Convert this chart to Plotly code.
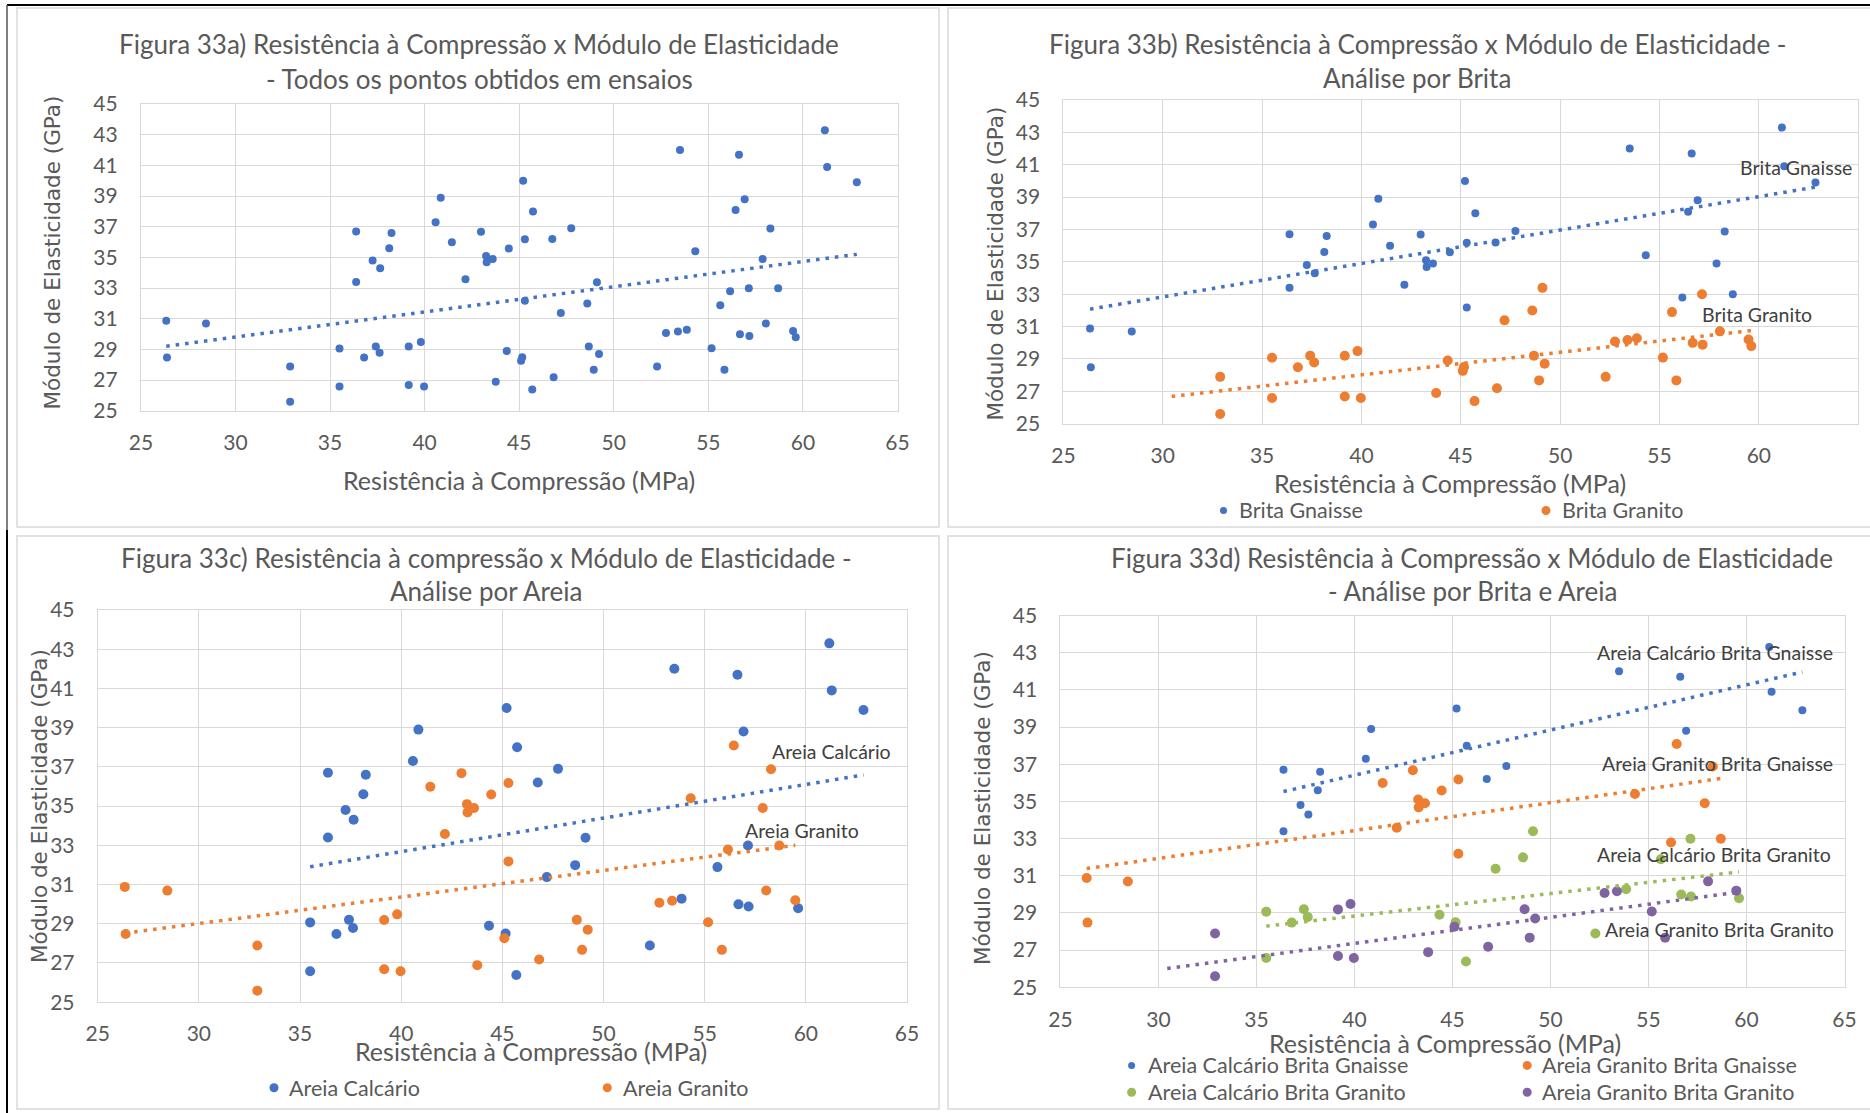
import numpy as np
import plotly.graph_objects as go

W, H = 1870, 1113

# Resistência à compressão (MPa) and módulo de elasticidade (GPa) per mix
acbg_x = [36.38, 36.38, 37.25, 37.65, 38.25, 38.13, 40.58, 40.85, 45.21, 45.73, 46.75, 47.75, 53.5, 56.62, 56.92, 61.16, 61.28, 62.85]
acbg_y = [36.7, 33.4, 34.8, 34.3, 36.6, 35.6, 37.3, 38.9, 40.0, 38.0, 36.2, 36.9, 42.0, 41.7, 38.8, 43.3, 40.9, 39.9]

agbg_x = [26.34, 26.38, 28.44, 41.44, 42.16, 42.98, 43.25, 43.28, 43.6, 44.45, 45.3, 45.3, 54.31, 56.15, 56.44, 57.87, 58.28, 58.69]
agbg_y = [30.88, 28.48, 30.69, 35.99, 33.58, 36.68, 35.1, 34.68, 34.9, 35.59, 36.18, 32.18, 35.4, 32.79, 38.09, 34.9, 36.88, 32.99]

acbgr_x = [35.5, 35.5, 36.8, 37.42, 37.62, 44.34, 45.16, 45.69, 47.2, 48.6, 49.11, 52.29, 53.86, 55.63, 56.67, 57.14, 57.17, 59.62]
acbgr_y = [29.07, 26.58, 28.48, 29.2, 28.78, 28.9, 28.5, 26.39, 31.38, 31.99, 33.39, 27.89, 30.28, 31.89, 29.99, 32.99, 29.88, 29.79]

# the first specimen (30.45 MPa, 24.3 GPa) lies below the 25 GPa axis floor
agbgr_x = [30.45, 32.89, 32.89, 39.16, 39.8, 39.16, 39.97, 43.76, 45.1, 46.82, 48.68, 48.94, 49.22, 52.76, 53.39, 55.17, 55.85, 58.04, 59.48]
agbgr_y = [24.3, 27.89, 25.59, 29.19, 29.48, 26.68, 26.58, 26.89, 28.26, 27.18, 29.2, 27.67, 28.7, 30.07, 30.17, 29.08, 27.67, 30.7, 30.2]

x_ticks = [25, 30, 35, 40, 45, 50, 55, 60, 65]
y_ticks = [25, 27, 29, 31, 33, 35, 37, 39, 41, 43, 45]

BLUE, ORANGE, GREEN, PURPLE = "#4472C4", "#ED7D31", "#9BBB59", "#8064A2"
TXT = "#595959"
LBL = "#404040"
GRID = "#D9D9D9"
FONT = "Lato"
YFONT = "DejaVu Sans"


def fx(p):
    return p / W


def fy(p):
    return 1 - p / H


def trend(xs, ys):
    # least-squares linear trendline over the span of the data
    k, b = np.polyfit(xs, ys, 1)
    x0, x1 = min(xs), max(xs)
    return [x0, x1], [k * x0 + b, k * x1 + b]


# plot areas in pixels: left, right, top, bottom
areas = {
    "1": (140.9, 897.5, 104.1, 410.8),
    "2": (1063.4, 1858.2, 100.0, 423.6),
    "3": (97.7, 907.0, 610.0, 1002.2),
    "4": (1060.4, 1844.5, 615.5, 987.3),
}

fig = go.Figure()


def add_points(ax, xs, ys, color, size):
    sfx = "" if ax == "1" else ax
    fig.add_trace(go.Scatter(x=xs, y=ys, mode="markers", xaxis="x" + sfx, yaxis="y" + sfx,
                             marker=dict(color=color, size=size, line=dict(width=0)),
                             cliponaxis=True, showlegend=False, hoverinfo="x+y"))


def add_trend(ax, xs, ys, color):
    sfx = "" if ax == "1" else ax
    tx, ty = trend(xs, ys)
    fig.add_trace(go.Scatter(x=tx, y=ty, mode="lines", xaxis="x" + sfx, yaxis="y" + sfx,
                             line=dict(color=color, width=3.5, dash="3.5px,6px"),
                             showlegend=False, hoverinfo="skip"))


all_x = acbg_x + agbg_x + acbgr_x + agbgr_x
all_y = acbg_y + agbg_y + acbgr_y + agbgr_y

# a) all points
add_points("1", all_x, all_y, BLUE, 8)
add_trend("1", all_x, all_y, BLUE)

# b) by coarse aggregate
gn_x, gn_y = acbg_x + agbg_x, acbg_y + agbg_y
gr_x, gr_y = acbgr_x + agbgr_x, acbgr_y + agbgr_y
add_points("2", gn_x, gn_y, BLUE, 8)
add_points("2", gr_x, gr_y, ORANGE, 10)
add_trend("2", gn_x, gn_y, BLUE)
add_trend("2", gr_x, gr_y, ORANGE)

# c) by sand
ca_x, ca_y = acbg_x + acbgr_x, acbg_y + acbgr_y
ag_x, ag_y = agbg_x + agbgr_x, agbg_y + agbgr_y
add_points("3", ca_x, ca_y, BLUE, 10)
add_points("3", ag_x, ag_y, ORANGE, 10)
add_trend("3", ca_x, ca_y, BLUE)
add_trend("3", ag_x, ag_y, ORANGE)

# d) by sand and coarse aggregate
add_points("4", acbg_x, acbg_y, BLUE, 8)
add_points("4", agbg_x, agbg_y, ORANGE, 10)
add_points("4", acbgr_x, acbgr_y, GREEN, 10)
add_points("4", agbgr_x, agbgr_y, PURPLE, 10)
add_trend("4", acbg_x, acbg_y, BLUE)
add_trend("4", agbg_x, agbg_y, ORANGE)
add_trend("4", acbgr_x, acbgr_y, GREEN)
add_trend("4", agbgr_x, agbgr_y, PURPLE)

layout_axes = {}
for ax, (l, r, t, b) in areas.items():
    sfx = "" if ax == "1" else ax
    common = dict(showgrid=True, gridcolor=GRID, gridwidth=1, showline=True, linecolor=GRID,
                  linewidth=1, mirror=True, zeroline=False, ticks="", automargin=False,
                  tickfont=dict(family=FONT, size=21, color=TXT))
    layout_axes["xaxis" + sfx] = dict(common, domain=[fx(l), fx(r)], range=[25, 65],
                                      tickvals=x_ticks, ticklabelstandoff=13,
                                      anchor="y" + sfx)
    layout_axes["yaxis" + sfx] = dict(common, domain=[fy(b), fy(t)], range=[25, 45],
                                      tickvals=y_ticks, ticklabelstandoff=18,
                                      anchor="x" + sfx)

ann = []


def text(s, x, y, size, color=TXT, anchor="center", family=FONT, angle=0):
    ann.append(dict(text=s, x=fx(x), y=fy(y), xref="paper", yref="paper", showarrow=False,
                    xanchor=anchor, yanchor="middle", textangle=angle,
                    font=dict(family=family, size=size, color=color)))


# titles
TS = 26
text("Figura 33a) Resistência à Compressão x Módulo de Elasticidade", 478.7, 44, TS)
text("- Todos os pontos obtidos em ensaios", 479, 79.4, TS)
text("Figura 33b) Resistência à Compressão x Módulo de Elasticidade -", 1417.6, 44, TS)
text("Análise por Brita", 1416.6, 78.4, TS)
text("Figura 33c) Resistência à compressão x Módulo de Elasticidade -", 486.5, 557.9, TS)
text("Análise por Areia", 485.6, 591.3, TS)
text("Figura 33d) Resistência à Compressão x Módulo de Elasticidade", 1472.4, 557.9, TS)
text("- Análise por Brita e Areia", 1472.3, 591.3, TS)

# axis titles
xt = "Resistência à Compressão (MPa)"
yt = "Módulo de Elasticidade (GPa)"
for (xx, yy) in [(519, 480), (1450.4, 483.4), (530.6, 1050.5), (1445.3, 1043.1)]:
    text(xt, xx, yy, 25)
for (xx, yy) in [(52.8, 252.7), (994.6, 264), (39, 806), (982.7, 808.3)]:
    text(yt, xx, yy, 21.5, family=YFONT, angle=-90)

# trendline labels
LS = 19.5
text("Brita Gnaisse", 1737.7, 168, LS, LBL, "left")
text("Brita Granito", 1700, 315, LS, LBL, "left")
text("Areia Calcário", 770, 751.2, LS, LBL, "left")
text("Areia Granito", 743.4, 830.4, LS, LBL, "left")
text("Areia Calcário Brita Gnaisse", 1595.4, 652, LS, LBL, "left")
text("Areia Granito Brita Gnaisse", 1599.6, 763.5, LS, LBL, "left")
text("Areia Calcário Brita Granito", 1595.4, 854.6, LS, LBL, "left")
text("Areia Granito Brita Granito", 1603, 929.7, LS, LBL, "left")

shapes = []


def legend_item(label, color, size, mx, tx, y):
    shapes.append(dict(type="circle", xref="paper", yref="paper", xsizemode="pixel",
                       ysizemode="pixel", xanchor=fx(mx), yanchor=fy(y),
                       x0=-size / 2, x1=size / 2, y0=-size / 2, y1=size / 2,
                       fillcolor=color, line=dict(width=0)))
    text(label, tx, y, 21.5, TXT, "left")


legend_item("Brita Gnaisse", BLUE, 7, 1223.5, 1236.6, 510.5)
legend_item("Brita Granito", ORANGE, 9, 1546, 1560, 510.5)
legend_item("Areia Calcário", BLUE, 9, 274, 286.6, 1087.7)
legend_item("Areia Granito", ORANGE, 9, 607.3, 620.5, 1087.7)
legend_item("Areia Calcário Brita Gnaisse", BLUE, 7, 1131.6, 1145.8, 1065.4)
legend_item("Areia Granito Brita Gnaisse", ORANGE, 9, 1527.2, 1540.2, 1065.4)
legend_item("Areia Calcário Brita Granito", GREEN, 9, 1131.6, 1145.8, 1092.2)
legend_item("Areia Granito Brita Granito", PURPLE, 9, 1527.2, 1540.2, 1092.2)

# chart area frames
for (l, r, t, b) in [(17, 939, 8, 527), (948, 1886, 8, 527), (17, 939, 536, 1109), (948, 1886, 536, 1109)]:
    shapes.append(dict(type="rect", xref="paper", yref="paper", x0=fx(l), x1=fx(r), y0=fy(b), y1=fy(t),
                       line=dict(color=GRID, width=1.5), fillcolor="rgba(0,0,0,0)"))

# page border lines
shapes.append(dict(type="line", xref="paper", yref="paper", x0=fx(7), x1=fx(1870), y0=fy(5), y1=fy(5),
                   line=dict(color="black", width=2)))
shapes.append(dict(type="line", xref="paper", yref="paper", x0=fx(7), x1=fx(7), y0=fy(5), y1=fy(530),
                   line=dict(color="#555555", width=1.5)))
shapes.append(dict(type="line", xref="paper", yref="paper", x0=fx(7), x1=fx(7), y0=fy(530), y1=fy(1113),
                   line=dict(color="black", width=2)))

fig.update_layout(width=W, height=H, template="none",
                  margin=dict(l=0, r=0, t=0, b=0, pad=0, autoexpand=False),
                  paper_bgcolor="white", plot_bgcolor="white",
                  annotations=ann, shapes=shapes, showlegend=False, **layout_axes)

fig.write_html("out.html", config={"displayModeBar": False})
